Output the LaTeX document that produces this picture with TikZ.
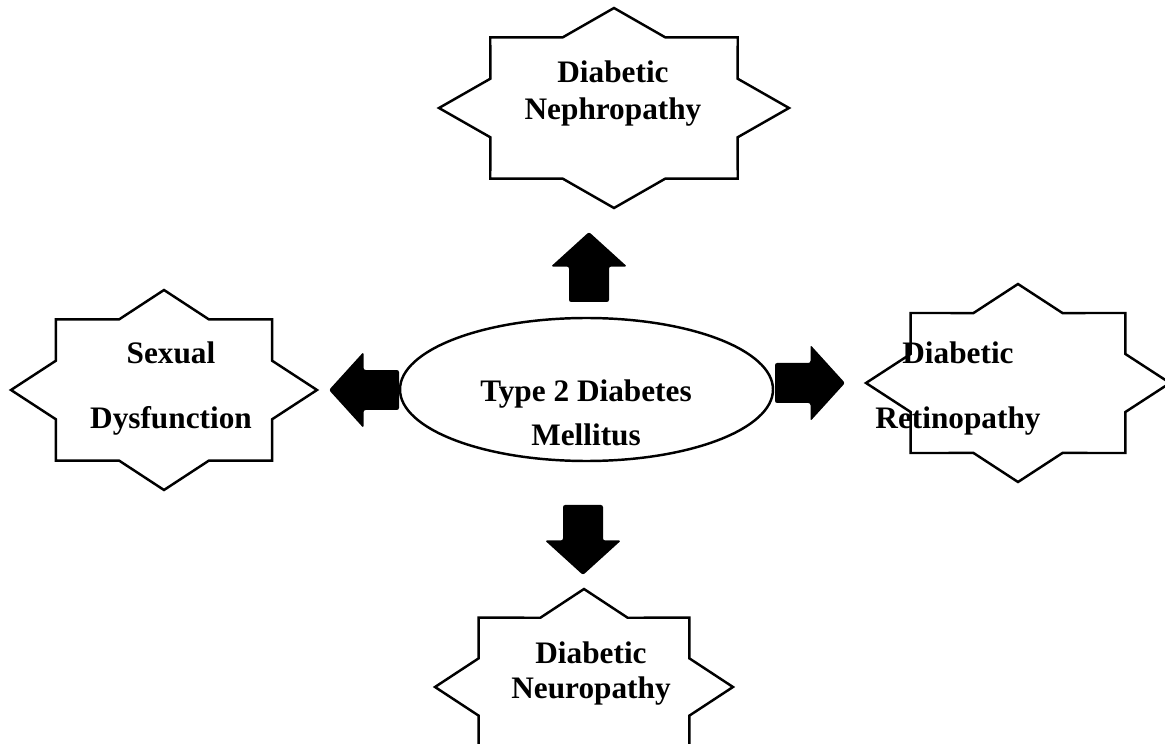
\documentclass[tikz,border=0pt]{standalone}
\usepackage{fontspec}
\setmainfont{Liberation Serif}
\usetikzlibrary{shapes.geometric}

\tikzset{
  starline/.style={line width=0.7pt, line join=miter},
  lbl/.style={font=\bfseries\fontsize{8.9}{#1}\selectfont, align=center, inner sep=0pt},
  lbl/.default=10.5pt,
  blockarrow/.pic={
    \fill[rounded corners=0.6pt] (0,-0.2) -- (0.355,-0.2) -- (0.355,-0.38) -- (0.70,0)
      -- (0.355,0.38) -- (0.355,0.2) -- (0,0.2) -- cycle;
  }
}

% 8-point star: center, x radius, y radius
\newcommand{\eightstar}[3]{%
  \draw[starline, shift={(#1)}] (0:#2 and #3)
    \foreach \k [evaluate=\k as \r using {mod(\k,2)==0 ? 1 : 0.765}] in {1,...,15}
      { -- (\k*22.5:\r*#2 and \r*#3)} -- cycle;}

\begin{document}
\begin{tikzpicture}
    \useasboundingbox (0,0) rectangle (11.65,7.44);

    %stelle
    \coordinate (nephc) at (6.14,6.36);
    \coordinate (sexc) at (1.64,3.54);
    \coordinate (retc) at (10.18,3.61);
    \coordinate (neurc) at (5.84,0.57);
    \eightstar{nephc}{1.75}{1.00}
    \eightstar{sexc}{1.53}{1.00}
    \eightstar{retc}{1.52}{0.99}
    \eightstar{neurc}{1.49}{0.98}

    %ellisse
    \node[draw, ellipse, line width=0.7pt, minimum width=3.73cm, minimum height=1.43cm, inner sep=0pt] (tdm) at (5.865,3.545) {};

    %frecce
    \pic[rotate=90] at (5.89,4.42) {blockarrow};
    \pic[rotate=180] at (3.99,3.54) {blockarrow};
    \pic at (7.75,3.61) {blockarrow};
    \pic[rotate=-90] at (5.83,2.39) {blockarrow};

    %testi
    \node[lbl=12.5pt] (tdmtext) at (5.86,3.315) {Type 2 Diabetes\\Mellitus};
    \node[lbl] (neph) at (6.13,6.505) {Diabetic\\Nephropathy};
    \node[lbl=18.5pt] (sex) at (1.71,3.555) {Sexual\\Dysfunction};
    \node[lbl=18.5pt] (ret) at (9.58,3.555) {Diabetic\\Retinopathy};
    \node[lbl=9.7pt] (neur) at (5.91,0.705) {Diabetic\\Neuropathy};
\end{tikzpicture}
\end{document}
